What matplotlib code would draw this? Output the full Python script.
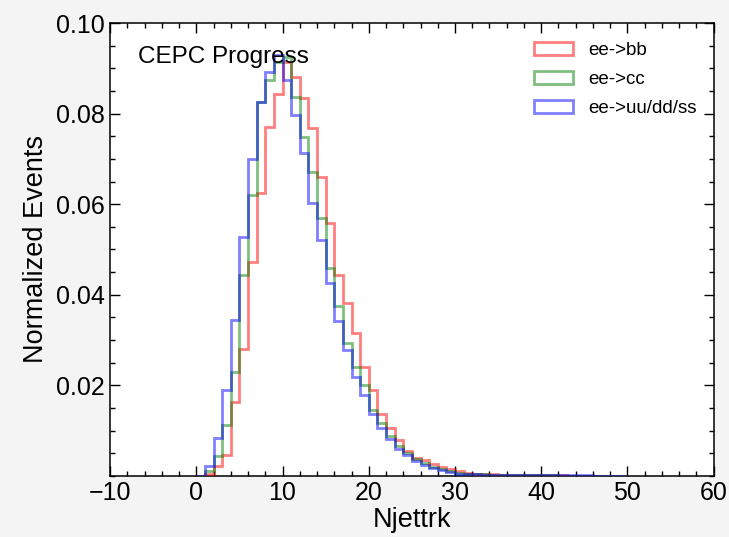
import numpy as np
import matplotlib
matplotlib.use("Agg")
import matplotlib.pyplot as plt
from matplotlib.ticker import MultipleLocator

plt.rcParams["font.family"] = ["Liberation Sans", "DejaVu Sans"]

# Njettrk histogram, unit bins starting at 0, normalised to unit area
bin_edges = np.arange(0, 51)

frac_bb = [0.0, 0.0004, 0.0022, 0.0046, 0.0164, 0.0280, 0.0473, 0.0624, 0.0770, 0.0843,
           0.0915, 0.0881, 0.0834, 0.0768, 0.0660, 0.0558, 0.0444, 0.0381, 0.0315, 0.0240,
           0.0190, 0.0137, 0.0105, 0.0078, 0.0055, 0.0040, 0.0034, 0.0026, 0.0020, 0.0015,
           0.0010, 0.0007, 0.0005, 0.0004, 0.0003, 0.00025, 0.0002, 0.00018, 0.00015, 0.00012,
           0.0001, 0.0001, 0.0001, 0.0, 0.0, 0.0, 0.0, 0.0, 0.0, 0.0]

frac_cc = [0.0, 0.0011, 0.0043, 0.0113, 0.0230, 0.0444, 0.0620, 0.0826, 0.0875, 0.0915,
           0.0925, 0.0837, 0.0749, 0.0672, 0.0569, 0.0458, 0.0374, 0.0293, 0.0241, 0.0201,
           0.0146, 0.0116, 0.0087, 0.0066, 0.0051, 0.0037, 0.0028, 0.0020, 0.0014, 0.0010,
           0.0007, 0.0005, 0.0004, 0.0003, 0.00025, 0.0002, 0.00016, 0.00013, 0.0001, 0.0001,
           0.0001, 0.0001, 0.0, 0.0, 0.0, 0.0, 0.0, 0.0, 0.0, 0.0]

frac_uds = [0.0, 0.0021, 0.0083, 0.0190, 0.0344, 0.0528, 0.0700, 0.0826, 0.0893, 0.0930,
            0.0874, 0.0797, 0.0712, 0.0602, 0.0521, 0.0425, 0.0341, 0.0278, 0.0219, 0.0178,
            0.0137, 0.0105, 0.0081, 0.0059, 0.0046, 0.0032, 0.0024, 0.0017, 0.0012, 0.0008,
            0.0005, 0.0004, 0.0003, 0.00025, 0.0002, 0.00018, 0.00015, 0.00013, 0.00012, 0.0001,
            0.0001, 0.0001, 0.0001, 0.0001, 0.0001, 0.0001, 0.0, 0.0, 0.0, 0.0]

samples = [
    ("ee->bb", frac_bb, "red"),
    ("ee->cc", frac_cc, "green"),
    ("ee->uu/dd/ss", frac_uds, "blue"),
]

fig = plt.figure(figsize=(7.29, 5.37), dpi=100, facecolor="#f4f4f4")
ax = fig.add_axes([0.151, 0.114, 0.828, 0.843])

centers = bin_edges[:-1] + 0.5
for label, frac, color in samples:
    ax.hist(centers, bins=bin_edges, weights=frac, histtype="step",
            color=color, alpha=0.5, lw=2, label=label, zorder=3)

ax.set_xlim(-10, 60)
ax.set_ylim(0, 0.1)
ax.set_yticks([0.02, 0.04, 0.06, 0.08, 0.10])
ax.xaxis.set_major_locator(MultipleLocator(10))
ax.xaxis.set_minor_locator(MultipleLocator(2))
ax.yaxis.set_minor_locator(MultipleLocator(0.005))
ax.tick_params(which="both", direction="in", top=True, right=True, labelsize=18)
ax.tick_params(which="major", length=7, width=1)
ax.tick_params(which="minor", length=3.5, width=1)
for sp in ax.spines.values():
    sp.set_linewidth(1.1)

ax.set_xlabel("Njettrk", fontsize=19.5, labelpad=2)
ax.set_ylabel("Normalized Events", fontsize=19.5, labelpad=5)

ax.text(0.046, 0.925, "CEPC Progress", transform=ax.transAxes,
        fontsize=17.5, va="center", ha="left")

ax.legend(loc="upper right", frameon=False, fontsize=13.5,
          handlelength=2.1, handletextpad=0.8, labelspacing=0.62,
          borderaxespad=0.5, bbox_to_anchor=(1.0, 0.995))

fig.savefig("out.png", dpi=100, facecolor=fig.get_facecolor())
